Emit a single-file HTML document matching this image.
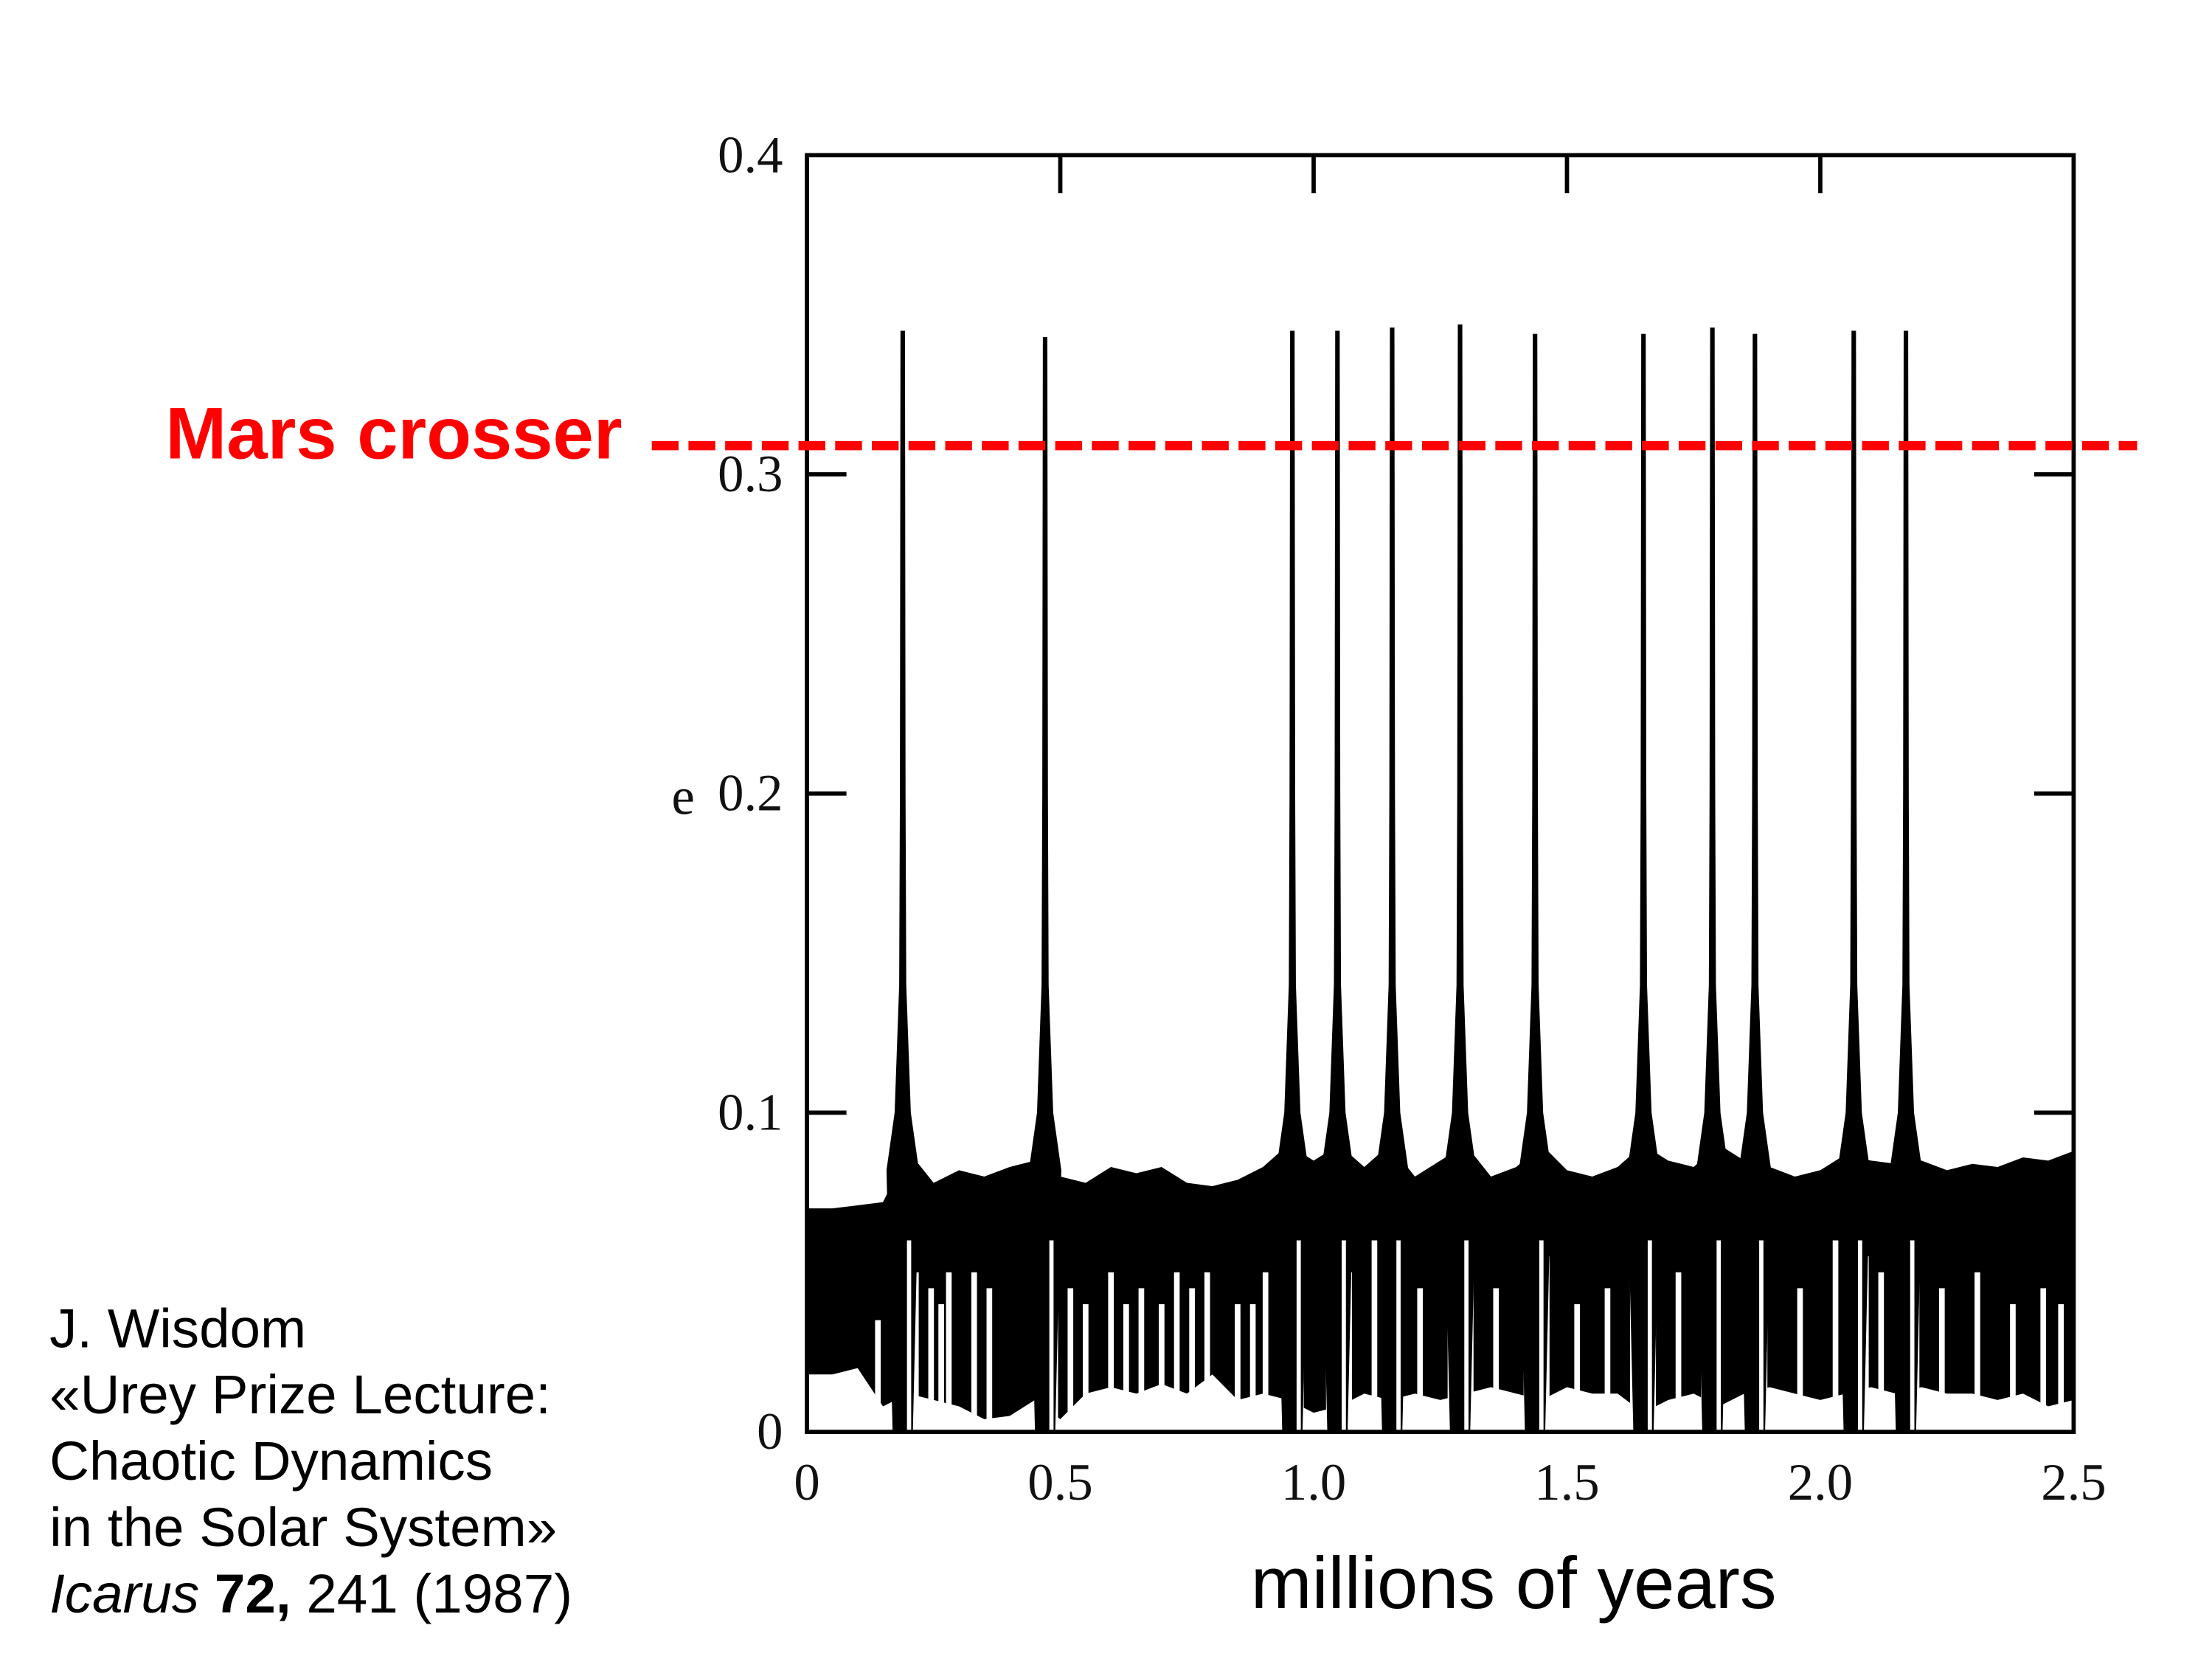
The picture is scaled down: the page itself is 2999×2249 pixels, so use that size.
<!DOCTYPE html>
<html><head><meta charset="utf-8"><style>
html,body{margin:0;padding:0;background:#fff;}
svg{display:block;}
.tick{font-family:"Liberation Serif",serif;font-size:37px;fill:#111;}
.cite{font-family:"Liberation Sans",sans-serif;font-size:39px;fill:#000;}
</style></head><body>
<svg id="chart" width="2999" height="2249" viewBox="0 0 1568 1176" xmlns="http://www.w3.org/2000/svg">
<rect width="1568" height="1176" fill="#fff"/>
<g id="plot"></g>
<g id="axes"></g>
<text x="441" y="325" text-anchor="end" font-family="Liberation Sans, sans-serif" font-weight="bold" font-size="52" fill="#f00">Mars crosser</text>
<line id="mars" x1="462" x2="1515" stroke="#f00" stroke-width="6.5" stroke-dasharray="19,7"/>
<text x="476" y="577" class="tick">e</text>
<text x="1073" y="1140" text-anchor="middle" font-family="Liberation Sans, sans-serif" font-size="52">millions of years</text>
<g>
<text class="cite" x="35" y="955">J. Wisdom</text>
<text class="cite" x="35" y="1002">«Urey Prize Lecture:</text>
<text class="cite" x="35" y="1049">Chaotic Dynamics</text>
<text class="cite" x="35" y="1096">in the Solar System»</text>
<text class="cite" x="35" y="1143"><tspan font-style="italic">Icarus</tspan>  <tspan font-weight="bold">72,</tspan> 241 (1987)</text>
</g>
</svg>
<script>
const xTicks=[0,0.5,1.0,1.5,2.0,2.5];
const xTickLabels=["0","0.5","1.0","1.5","2.0","2.5"];
const yTicks=[0,0.1,0.2,0.3,0.4];
const yTickLabels=["0","0.1","0.2","0.3","0.4"];
const marsCrosserE=0.309;
const spikeT=[0.189,0.470,0.958,1.047,1.155,1.289,1.437,1.651,1.787,1.871,2.066,2.169];
const spikeE=[0.345,0.343,0.345,0.345,0.346,0.347,0.344,0.344,0.346,0.344,0.345,0.345];
const bandT=[0,0.05,0.10,0.15,0.20,0.25,0.30,0.35,0.40,0.45,0.50,0.55,0.60,0.65,0.70,0.75,0.80,0.85,0.90,0.95,1.00,1.05,1.10,1.15,1.20,1.25,1.30,1.35,1.40,1.45,1.50,1.55,1.60,1.65,1.70,1.75,1.80,1.85,1.90,1.95,2.00,2.05,2.10,2.15,2.20,2.25,2.30,2.35,2.40,2.45,2.50];
const bandUpper=[0.070,0.070,0.071,0.072,0.088,0.078,0.082,0.080,0.083,0.085,0.080,0.078,0.083,0.081,0.083,0.078,0.077,0.079,0.083,0.090,0.085,0.090,0.083,0.090,0.080,0.085,0.090,0.080,0.083,0.090,0.082,0.080,0.083,0.090,0.085,0.083,0.090,0.085,0.083,0.080,0.082,0.087,0.085,0.084,0.085,0.082,0.084,0.083,0.086,0.085,0.088];
const bandLower=[0.018,0.018,0.020,0.008,0.012,0.010,0.008,0.004,0.005,0.010,0.004,0.012,0.014,0.012,0.015,0.012,0.018,0.010,0.012,0.010,0.006,0.008,0.012,0.010,0.012,0.010,0.012,0.014,0.012,0.010,0.014,0.012,0.012,0.006,0.010,0.012,0.008,0.012,0.014,0.012,0.010,0.012,0.014,0.012,0.014,0.012,0.012,0.010,0.012,0.008,0.010];
const gapT=[0.14,0.205,0.215,0.245,0.265,0.28,0.33,0.36,0.455,0.49,0.52,0.55,0.60,0.63,0.66,0.70,0.73,0.76,0.79,0.85,0.88,0.905,0.975,1.03,1.07,1.12,1.17,1.21,1.27,1.31,1.36,1.42,1.46,1.52,1.58,1.63,1.67,1.72,1.77,1.80,1.89,1.96,2.03,2.09,2.12,2.19,2.24,2.31,2.38,2.44,2.475];
const gapE=[0.035,0.060,0.050,0.045,0.040,0.050,0.050,0.045,0.055,0.060,0.045,0.040,0.050,0.040,0.045,0.040,0.050,0.045,0.050,0.040,0.040,0.050,0.060,0.055,0.050,0.060,0.055,0.045,0.060,0.055,0.045,0.060,0.055,0.040,0.045,0.060,0.055,0.050,0.060,0.055,0.055,0.045,0.060,0.055,0.050,0.060,0.045,0.050,0.040,0.045,0.040];

const X0=572,X1=1470,Y0=1015,Y1=110;
const xs=t=>X0+(t/2.5)*(X1-X0);
const ys=e=>Y0-(e/0.4)*(Y0-Y1);
const NS="http://www.w3.org/2000/svg";
function mk(tag,attrs,parent){const el=document.createElementNS(NS,tag);for(const k in attrs)el.setAttribute(k,attrs[k]);parent.appendChild(el);return el;}
const plot=document.getElementById('plot'),axes=document.getElementById('axes');

let pts=[];
bandT.forEach((t,i)=>pts.push(xs(t).toFixed(1)+','+ys(bandUpper[i]).toFixed(1)));
for(let i=bandT.length-1;i>=0;i--)pts.push(xs(bandT[i]).toFixed(1)+','+ys(bandLower[i]).toFixed(1));
const band=mk('polygon',{points:pts.join(' '),fill:'#000'},plot);



gapT.forEach((t,i)=>{
  const g=mk('rect',{x:xs(t)-2,y:ys(gapE[i]),width:4,height:ys(0)-ys(gapE[i]),fill:'#fff'},plot);
  
  
});

spikeT.forEach((t,i)=>{
  const c=xs(t),top=ys(spikeE[i]);
  const d=`M${xs(t-0.032)},${ys(0.082)} L${xs(t-0.016)},${ys(0.10)} L${xs(t-0.007)},${ys(0.14)} L${c-2},${ys(0.2)} L${c-1.6},${top} L${c+1.6},${top} L${c+2},${ys(0.2)} L${xs(t+0.007)},${ys(0.14)} L${xs(t+0.016)},${ys(0.10)} L${xs(t+0.032)},${ys(0.082)} L${xs(t+0.02)},${ys(0.0)} L${xs(t-0.02)},${ys(0.0)} Z`;
  const s=mk('path',{d:d,fill:'#000'},plot);
  
  
  const w=mk('rect',{x:c+3,y:ys(0.06),width:3,height:ys(0)-ys(0.06),fill:'#fff'},plot);
  
  
});

const frame=mk('rect',{x:X0,y:Y1,width:X1-X0,height:Y0-Y1,fill:'none',stroke:'#000','stroke-width':3},axes);



xTicks.forEach((v,i)=>{
  const x=xs(v);
  if(i>0&&i<xTicks.length-1){
    const tk=mk('line',{x1:x,x2:x,y1:Y1,y2:Y1+27,stroke:'#000','stroke-width':3},axes);
    
    
  }
  const lb=mk('text',{x:x,y:1063,'text-anchor':'middle',class:'tick'},axes);
  lb.textContent=xTickLabels[i];
  
  
});
yTicks.forEach((v,i)=>{
  const y=ys(v);
  if(i>0&&i<yTicks.length-1){
    const a=mk('line',{x1:X0,x2:X0+28,y1:y,y2:y,stroke:'#000','stroke-width':3},axes);
    
    
    const b=mk('line',{x1:X1-28,x2:X1,y1:y,y2:y,stroke:'#000','stroke-width':3},axes);
    
    
  }
  const lb=mk('text',{x:555,y:y+12,'text-anchor':'end',class:'tick'},axes);
  lb.textContent=yTickLabels[i];
  
  
});
const m=document.getElementById('mars');
m.setAttribute('y1',ys(marsCrosserE));
m.setAttribute('y2',ys(marsCrosserE));
</script>
</body></html>
